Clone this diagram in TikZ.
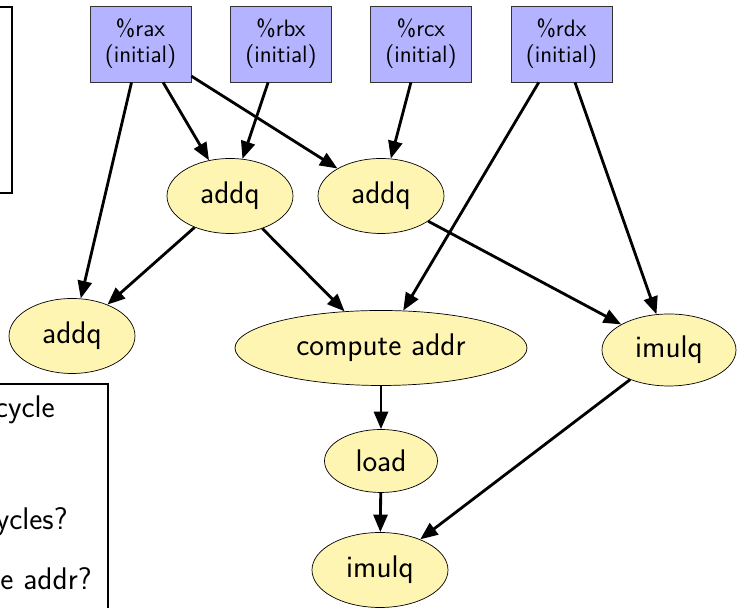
\documentclass[tikz,border=0pt]{standalone}
\usepackage{tikz}
\usetikzlibrary{shapes.geometric,arrows.meta}

\definecolor{regblue}{RGB}{179,179,255}
\definecolor{opyellow}{RGB}{255,245,178}

\begin{document}
\begin{tikzpicture}[
    reg/.style={draw=black!80, fill=regblue, align=center, inner sep=0pt,
      minimum width=2.02cm, minimum height=1.52cm,
      font=\sffamily\fontsize{13.5}{14.7}\selectfont},
    op/.style={ellipse, draw, thin, fill=opyellow, inner sep=0pt,
      minimum width=2.52cm, minimum height=1.5cm,
      font=\sffamily\fontsize{17.8}{21}\selectfont},
    note/.style={anchor=base east, inner sep=0pt,
      font=\sffamily\fontsize{17.8}{21}\selectfont},
    dep/.style={-{Triangle[length=10pt,width=8pt]}, line width=1.6pt}]
    \clip (0,0) rectangle (14.74,12.16);
    % note boxes, cut off at the left
    \draw[line width=1.5pt] (-3,12.02) rectangle (0.24,8.30);
    \draw[line width=1.5pt] (-3,-1) rectangle (2.16,4.48);
    \node[note] (n1) at (1.10,3.80) {cycle};
    \node[note] (n2) at (1.36,1.56) {ycles?};
    \node[note] (n3) at (1.84,0.36) {e addr?};
    % registers
    \node[reg] (rax) at (2.81,11.28) {\%rax\\(initial)};
    \node[reg] (rbx) at (5.62,11.28) {\%rbx\\(initial)};
    \node[reg] (rcx) at (8.42,11.28) {\%rcx\\(initial)};
    \node[reg] (rdx) at (11.23,11.28) {\%rdx\\(initial)};
    % operations
    \node[op] (add1) at (4.60,8.24) {addq};
    \node[op] (add2) at (7.62,8.24) {addq};
    \node[op] (add3) at (1.44,5.44) {addq};
    \node[op, minimum width=5.84cm] (addr) at (7.62,5.20) {compute addr};
    \node[op, minimum width=2.68cm, minimum height=1.44cm] (mul1) at (13.38,5.16) {imulq};
    \node[op, minimum width=2.26cm, minimum height=1.26cm] (load) at (7.62,2.94) {load};
    \node[op, minimum width=2.72cm] (mul2) at (7.60,0.76) {imulq};
    % dependencies
    \foreach \a/\b in {rax/add3, rax/add1, rax/add2, rbx/add1, rcx/add2,
        rdx/addr, rdx/mul1, add1/add3, add1/addr, add2/mul1,
        addr/load, load/mul2, mul1/mul2}
      \draw[dep] (\a) -- (\b);
\end{tikzpicture}
\end{document}
